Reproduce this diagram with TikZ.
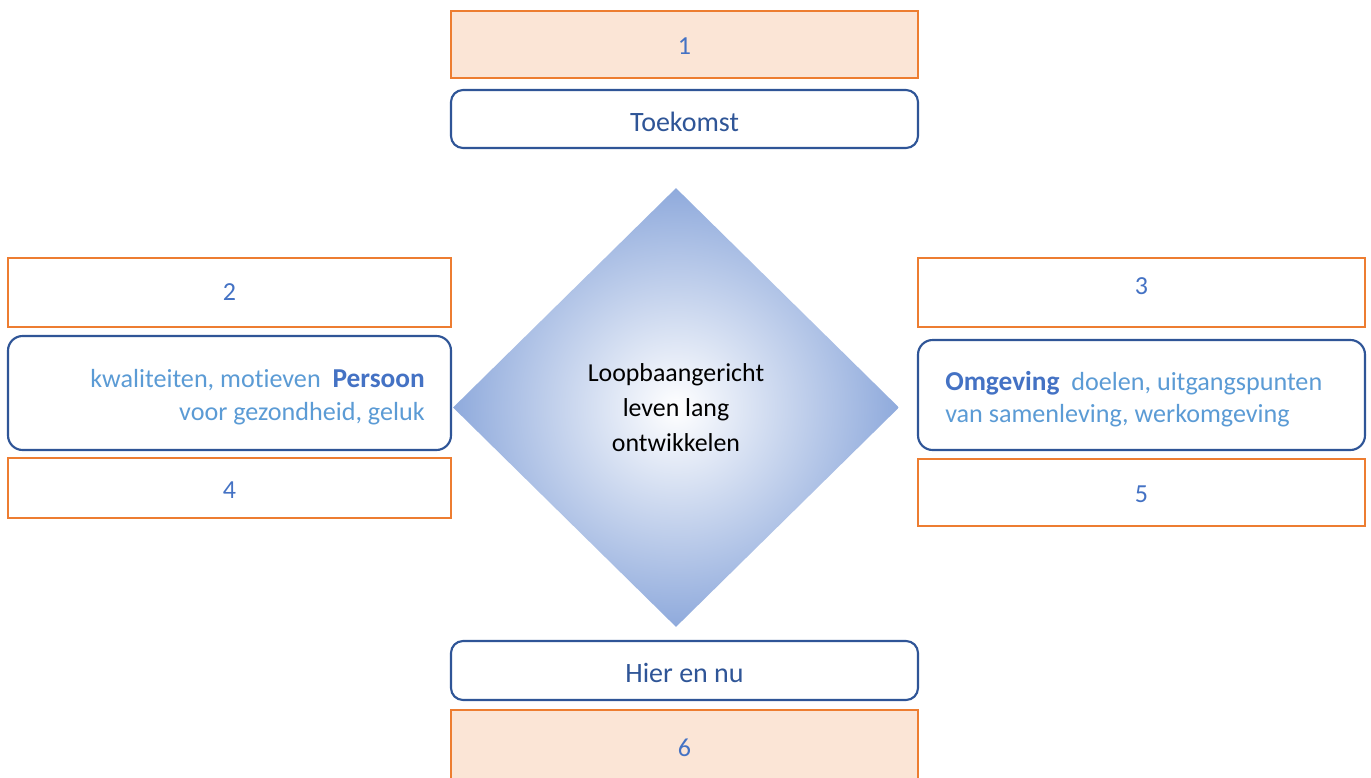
\documentclass[tikz,border=0pt]{standalone}
\usepackage{fontspec}
\setmainfont{Carlito}[Ligatures=NoCommon]
\usetikzlibrary{shapes.geometric}
\definecolor{orangeline}{HTML}{ED7D31}
\definecolor{peach}{HTML}{FBE5D6}
\definecolor{darkblue}{HTML}{2F5597}
\definecolor{midblue}{HTML}{4472C4}
\definecolor{lightblue}{HTML}{5B9BD5}
\definecolor{diamondedge}{HTML}{8FAADC}
\newcommand{\vshifttxt}[2]{\raisebox{#1}[\height][\depth]{#2}}
\begin{document}
\begin{tikzpicture}[x=0.75pt,y=-0.75pt,
  numbox/.style={draw=orangeline, line width=1.8pt, fill=white, rectangle, inner sep=0pt,
     text=midblue, font=\fontsize{19.5}{23}\selectfont},
  peachbox/.style={numbox, fill=peach},
  timebox/.style={draw=darkblue, line width=1.6pt, rounded corners=9pt, fill=white, inner sep=0pt,
     text=darkblue, font=\fontsize{21}{25}\selectfont, minimum width=350.25pt},
  sidebox/.style={draw=darkblue, line width=1.6pt, rounded corners=11pt, fill=white, inner sep=0pt},
  lighttxt/.style={inner sep=0pt, text=lightblue, font=\fontsize{19.6}{24}\selectfont}
]
\useasboundingbox (0,0) rectangle (1371,778);
\clip (0,0) rectangle (1371,778);

% top
\node[peachbox, minimum width=350.25pt, minimum height=50.25pt] (b1) at (684.5,44.5) {\vshifttxt{-1.5pt}{1}};
\node[timebox, minimum height=43.5pt] (toek) at (684.5,119) {\vshifttxt{-2.2pt}{Toekomst}};

% left
\node[numbox, minimum width=332.25pt, minimum height=51.75pt] (b2) at (229.5,292.5) {2};
\node[sidebox, minimum width=332.25pt, minimum height=85.5pt] (pers) at (229.5,393) {};
\node[numbox, minimum width=332.25pt, minimum height=45pt] (b4) at (229.5,488) {\vshifttxt{-1.5pt}{4}};
\node[lighttxt, anchor=base east] (persA) at (425,387) {kwaliteiten, motieven\ \ {\fontsize{20.5}{24}\selectfont\bfseries\color{midblue}Persoon}};
\node[lighttxt, anchor=base east] (persB) at (425,420) {voor gezondheid, geluk};

% right
\node[numbox, minimum width=335.25pt, minimum height=51.75pt] (b3) at (1141.5,292.5) {\vshifttxt{4.5pt}{3}};
\node[sidebox, minimum width=335.25pt, minimum height=82.5pt] (omg) at (1141.5,395) {};
\node[numbox, minimum width=335.25pt, minimum height=50.25pt] (b5) at (1141.5,492.5) {\vshifttxt{-1.2pt}{5}};
\node[lighttxt, anchor=base west] (omgA) at (945,390) {{\fontsize{20.5}{24}\selectfont\bfseries\color{midblue}Omgeving}\ \ doelen, uitgangspunten};
\node[lighttxt, anchor=base west] (omgB) at (945,422) {van samenleving, werkomgeving};

% centre diamond
\node[diamond, inner sep=0pt, minimum width=334.5pt, minimum height=329.25pt,
      inner color=white, outer color=diamondedge, shading=radial,
      align=center, font=\fontsize{19.4}{26}\selectfont, text=black] (dia) at (676,407.5)
      {Loopbaangericht\\leven lang\\ontwikkelen};

% bottom
\node[timebox, minimum height=44.25pt] (hier) at (684.5,670.5) {\vshifttxt{-2.2pt}{Hier en nu}};
\node[peachbox, minimum width=350.25pt, minimum height=63pt] (b6) at (684.5,752) {\vshifttxt{3pt}{6}};
\end{tikzpicture}
\end{document}
